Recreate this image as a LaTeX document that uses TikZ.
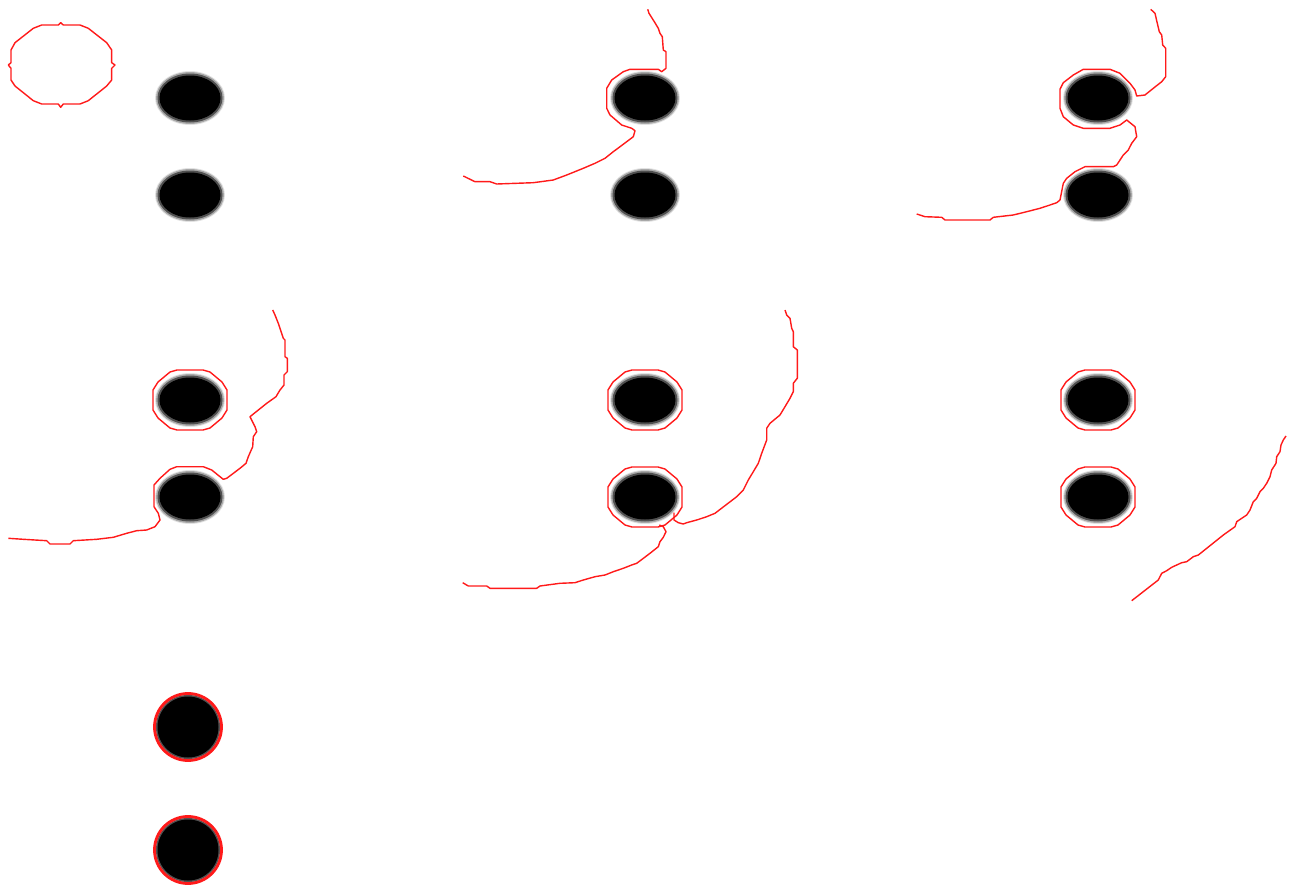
\documentclass[tikz,border=0pt]{standalone}
\usepackage{xcolor}
\usepackage{tikz}
\definecolor{Contour}{HTML}{FF1A1A}
\definecolor{HaloOut}{HTML}{E2E2E2}
\definecolor{Halo}   {HTML}{A8A8A8}
\definecolor{HaloMid}{HTML}{505050}

\begin{document}
\begin{tikzpicture}[x=0.02cm, y=-0.02cm,
    contour/.style={draw=Contour, line width=0.8pt, line join=round},
    thickcontour/.style={draw=Contour, line width=1.6pt},
    ring/.pic={\draw[contour] (-13,-30) -- (13,-30) -- (20,-28) -- (32,-18) -- (37,-10)
        -- (37,10) -- (32,18) -- (20,28) -- (13,30) -- (-13,30) -- (-20,28)
        -- (-32,18) -- (-37,10) -- (-37,-10) -- (-32,-18) -- (-20,-28) -- cycle;}]
  \useasboundingbox (0,0) rectangle (1303,889);
  % Blobs, two per panel
  \foreach \bx/\by in {190/98, 645/98, 1098/98, 190/400, 645/400, 1098/400} {
    \foreach \dy in {0, 97} {
      \fill[HaloOut] (\bx,\by+\dy) ellipse (35 and 27);
      \fill[Halo] (\bx,\by+\dy) ellipse (34 and 26);
      \fill[HaloMid] (\bx,\by+\dy) ellipse (32.5 and 24.5);
      \fill[black] (\bx,\by+\dy) ellipse (30.5 and 22.5);
    }
  }
  \foreach \by in {727, 850} {
    \fill[HaloOut] (188,\by) circle (34);
    \fill[Halo] (188,\by) circle (33);
    \fill[HaloMid] (188,\by) circle (32);
    \fill[black] (188,\by) circle (30.5);
  }
  % Panel 1: initial contour
  \draw[contour] (41.7,25) -- (58.3,25) -- (60.7,22.7) -- (63.3,25) -- (80,25) -- (88.3,28.3)
    -- (106.7,42.7) -- (111.7,50) -- (111.7,62.7) -- (115,65) -- (111.7,68.3) -- (111.7,80)
    -- (106.7,86) -- (88.3,100.7) -- (80,104) -- (63.3,104) -- (60.7,107.3) -- (58.3,104)
    -- (41.7,104) -- (33.3,100.7) -- (15,86) -- (11,80) -- (11,68.3) -- (8.3,65) -- (11,62.7)
    -- (11,50) -- (15,42.7) -- (33.3,28.3) -- cycle;
  % Panel 2
  \draw[contour] (647.7,9.3) -- (649,13.3) -- (654.3,21.7) -- (658.3,28.3) -- (660,33.3)
    -- (662.3,36.7) -- (663.3,50) -- (666,51.7) -- (666,68.3) -- (661.7,71.7) -- (658.3,69.3)
    -- (630,69.3) -- (623.3,71.7) -- (611.7,80) -- (606.7,88.3) -- (606.7,108.3) -- (610,115)
    -- (621.7,125) -- (631.7,128.3) -- (635,130.7) -- (633.3,136.7) -- (626.7,141.7)
    -- (613.3,151.7) -- (605,158.3) -- (595,163.3) -- (583.3,168.3) -- (566.7,175)
    -- (553.3,180) -- (533.3,182.7) -- (496.7,184) -- (490,181.7) -- (475,181.7) -- (463.3,176);
  % Panel 3
  \draw[contour] (1150.7,9.3) -- (1155,13.3) -- (1157.3,23.3) -- (1159.3,31.7) -- (1161.7,35)
    -- (1162.7,45) -- (1165.7,48.3) -- (1165.7,76.7) -- (1161.7,81.7) -- (1153.3,88.3)
    -- (1145,95) -- (1136.7,96) -- (1135,90) -- (1130,83.3) -- (1120,73.3) -- (1110,69.3)
    -- (1083.3,69.3) -- (1073.3,75) -- (1063.3,82.7) -- (1060,89.3) -- (1060,108.3)
    -- (1063.3,116.7) -- (1073.3,125) -- (1083.3,128.3) -- (1110,128.3) -- (1120,125)
    -- (1126.7,120) -- (1135,126.7) -- (1136.7,136.7) -- (1131.7,143.3) -- (1128.3,150)
    -- (1123.3,155) -- (1120,160) -- (1116.7,165) -- (1113.3,166.7) -- (1085,166.7)
    -- (1075,171.7) -- (1066.7,178.3) -- (1063.3,183.3) -- (1060,200) -- (1056.7,202.7)
    -- (1050,205) -- (1040,208.3) -- (1026.7,211.7) -- (1013.3,215) -- (993.3,217.3)
    -- (990,220) -- (945,220) -- (941.7,217.3) -- (925,216.7) -- (916.7,214);
  % Panel 4
  \pic at (190,400) {ring};
  \draw[contour] (272.7,310) -- (275,315) -- (278.3,323.3) -- (283.3,338.3) -- (285,340)
    -- (285,356.7) -- (287.3,358.3) -- (287.3,371.7) -- (284,375) -- (284,385) -- (280,390)
    -- (276,396.7) -- (266.7,403.3) -- (250,416.7) -- (255,426.7) -- (256.7,431.7)
    -- (253.3,436.7) -- (252.7,446.7) -- (248.3,456.7) -- (246,463.3) -- (240,468.3)
    -- (226.7,478.3) -- (223.3,479.3) -- (211.7,470) -- (203.3,466.7) -- (176.7,466.7)
    -- (170,469.3) -- (160,478.3) -- (154,485) -- (154,506.7) -- (158.3,513.3) -- (160,520)
    -- (155,526.7) -- (146.7,530) -- (136.7,530.7) -- (126.7,533.3) -- (113.3,537.3)
    -- (96.7,539.3) -- (73.3,540.7) -- (70,544) -- (50,544) -- (46.7,540.7) -- (23.3,539.3)
    -- (8.3,538.3);
  % Panel 5
  \pic at (645,400) {ring};
  \pic at (645,497) {ring};
  \draw[contour] (785,310) -- (786.7,315) -- (790,318.3) -- (791.7,328.3) -- (793.3,331.7)
    -- (793.3,346.7) -- (797.3,350) -- (797.3,378.3) -- (793.3,383.3) -- (793.3,391.7)
    -- (790,398.3) -- (785,406.7) -- (780,415) -- (770,423.3) -- (766.7,428.3) -- (766.7,440)
    -- (761.7,453.3) -- (758.3,463.3) -- (753.3,471.7) -- (748.3,480) -- (743.3,490)
    -- (736.7,496.7) -- (715,513.3) -- (706.7,516.7) -- (696.7,520) -- (686.7,522.7)
    -- (683.3,524) -- (678.3,522.7) -- (674,520) -- (674,512.7);
  \draw[contour] (659.3,525) -- (663.3,526.7) -- (666,531.7) -- (663.3,537.3) -- (660,541.7)
    -- (658.3,546.7) -- (650,553.3) -- (636.7,563.3) -- (631.7,565) -- (623.3,568.3)
    -- (613.3,571.7) -- (605,575) -- (595,576.7) -- (583.3,580) -- (575,582.7) -- (560,583.3)
    -- (540,586) -- (536.7,588.3) -- (490,588.3) -- (486.7,586) -- (468.3,586) -- (462.7,582.7);
  % Panel 6
  \pic at (1098,400) {ring};
  \pic at (1098,497) {ring};
  \draw[contour] (1286,436) -- (1283.3,440) -- (1281,445) -- (1280,451.7) -- (1276.7,456.7)
    -- (1276,463.3) -- (1271.7,470) -- (1270,476.7) -- (1266.7,483.3) -- (1263.3,488.3)
    -- (1260,491.7) -- (1256.7,498.3) -- (1253.3,501.7) -- (1250,510) -- (1246.7,515)
    -- (1241.7,518.3) -- (1236.7,521.7) -- (1235,526.7) -- (1223.3,535) -- (1206.7,548.3)
    -- (1198.3,555) -- (1193.3,556.7) -- (1186.7,561.7) -- (1181.7,562.7) -- (1176.7,565)
    -- (1171.7,567.3) -- (1166.7,570.7) -- (1161.7,573.3) -- (1158.3,580) -- (1131.7,600.7);
  % Panel 7: final contours
  \draw[thickcontour] (188,727) circle (33.5);
  \draw[thickcontour] (188,850) circle (33.5);
\end{tikzpicture}
\end{document}
